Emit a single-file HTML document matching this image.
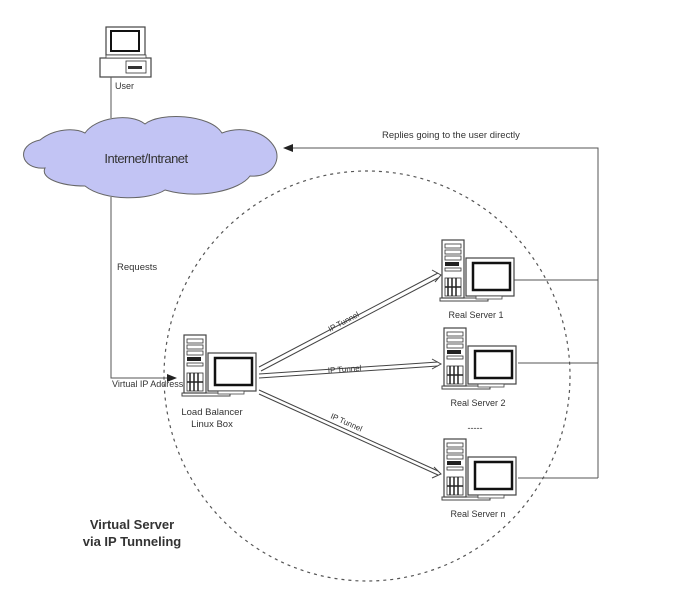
<!DOCTYPE html>
<html><head><meta charset="utf-8"><style>
html,body{margin:0;padding:0;background:#fff;}
svg{display:block;font-family:"Liberation Sans",sans-serif;}
</style></head><body>
<svg width="693" height="602" viewBox="0 0 693 602" xmlns="http://www.w3.org/2000/svg">
<defs>
<g id="srv">
  <!-- base -->
  <rect x="0" y="58" width="48" height="3" fill="#fff" stroke="#444" stroke-width="1"/>
  <!-- tower -->
  <rect x="2" y="0" width="22" height="58" fill="#fff" stroke="#444" stroke-width="1.2"/>
  <rect x="5" y="4" width="16" height="4" fill="#fff" stroke="#333" stroke-width="0.8"/>
  <rect x="5" y="10" width="16" height="4" fill="#fff" stroke="#333" stroke-width="0.8"/>
  <rect x="5" y="16" width="16" height="4" fill="#fff" stroke="#333" stroke-width="0.8"/>
  <rect x="5" y="22" width="14" height="4" fill="#222"/>
  <rect x="5" y="28" width="16" height="3" fill="#fff" stroke="#333" stroke-width="0.8"/>
  <rect x="5" y="38" width="16" height="18" fill="#fff" stroke="#333" stroke-width="0.8"/>
  <path d="M8 38V56M12 38V56M16 38V56M5 47H21" stroke="#222" stroke-width="1.5"/>
  <!-- monitor -->
  <rect x="26" y="18" width="48" height="38" fill="#fff" stroke="#444" stroke-width="1.2"/>
  <rect x="33" y="23" width="37" height="27" fill="#fff" stroke="#111" stroke-width="2.5"/>
  <rect x="36" y="56" width="26" height="3" fill="#fff" stroke="#444" stroke-width="0.8"/>
</g>
<marker id="ar" markerWidth="10" markerHeight="8" refX="9" refY="4" orient="auto" markerUnits="userSpaceOnUse">
  <path d="M0,0 L10,4 L0,8 z" fill="#222"/>
</marker>
</defs>

<!-- user pc -->
<rect x="106" y="27" width="39" height="28" fill="#fff" stroke="#444" stroke-width="1.2"/>
<rect x="111" y="31" width="28" height="20" fill="#fff" stroke="#111" stroke-width="2"/>
<rect x="100" y="58" width="51" height="19" fill="#fff" stroke="#444" stroke-width="1.2"/>
<rect x="106" y="55" width="40" height="3" fill="#fff" stroke="#444" stroke-width="0.8"/>
<rect x="126" y="61" width="20" height="12" fill="#fff" stroke="#333" stroke-width="0.8"/>
<rect x="128" y="66" width="14" height="3" fill="#333"/>
<text x="115" y="89" font-size="9" fill="#333">User</text>

<!-- lines user/cloud/requests -->
<line x1="111" y1="77" x2="111" y2="118" stroke="#555" stroke-width="1"/>
<polyline points="111,197 111,378 176,378" fill="none" stroke="#555" stroke-width="1" marker-end="url(#ar)"/>

<!-- cloud -->
<path d="M40,140 C55,128 75,128 85,133 C95,118 130,112 145,124 C160,112 210,114 222,133 C240,126 265,130 275,148 C282,162 270,178 250,176 C240,190 200,200 165,190 C150,200 105,202 85,186 C60,186 40,178 45,168 C20,170 15,145 40,140 Z" fill="#c2c4f4" stroke="#666" stroke-width="1"/>
<text x="146" y="163" font-size="13" text-anchor="middle" fill="#333" letter-spacing="-0.5">Internet/Intranet</text>

<text x="117" y="270" font-size="9.5" fill="#333">Requests</text>
<text x="112" y="387" font-size="9" fill="#333">Virtual IP Address</text>

<!-- dashed circle -->
<ellipse cx="367" cy="376" rx="203" ry="205" fill="none" stroke="#555" stroke-width="1.2" stroke-dasharray="3,4"/>

<!-- replies -->
<polyline points="598,478 598,148 284,148" fill="none" stroke="#555" stroke-width="1" marker-end="url(#ar)"/>
<text x="382" y="138" font-size="9.5" fill="#333">Replies going to the user directly</text>
<line x1="514" y1="280" x2="598" y2="280" stroke="#555"/>
<line x1="518" y1="363" x2="598" y2="363" stroke="#555"/>
<line x1="518" y1="478" x2="598" y2="478" stroke="#555"/>

<!-- tunnels -->
<g stroke="#444" stroke-width="1" fill="none">
  <line x1="259" y1="367" x2="438" y2="273"/>
  <line x1="261" y1="371" x2="438" y2="278"/>
  <line x1="259" y1="374" x2="438" y2="362"/>
  <line x1="259" y1="378" x2="438" y2="366"/>
  <line x1="259" y1="390" x2="438" y2="471"/>
  <line x1="259" y1="394" x2="438" y2="475"/>
  <path d="M432,270 L441,275 L435,282"/>
  <path d="M432,359 L441,364 L432,369"/>
  <path d="M434,467 L441,474 L432,478"/>
</g>
<text font-size="8" fill="#333" transform="translate(330,332) rotate(-28)">IP Tunnel</text>
<text font-size="8" fill="#333" transform="translate(328,373) rotate(-4)">IP Tunnel</text>
<text font-size="8" fill="#333" transform="translate(330,418) rotate(24)">IP Tunnel</text>

<!-- load balancer -->
<use href="#srv" x="182" y="335"/>
<text x="212" y="415" font-size="9.5" text-anchor="middle" fill="#333">Load Balancer</text>
<text x="212" y="427" font-size="9.5" text-anchor="middle" fill="#333">Linux Box</text>

<!-- real servers -->
<use href="#srv" x="440" y="240"/>
<text x="476" y="318" font-size="9" text-anchor="middle" fill="#333">Real Server 1</text>
<use href="#srv" x="442" y="328"/>
<text x="478" y="406" font-size="9" text-anchor="middle" fill="#333">Real Server 2</text>
<text x="475" y="431" font-size="9" text-anchor="middle" fill="#333">-----</text>
<use href="#srv" x="442" y="439"/>
<text x="478" y="517" font-size="9" text-anchor="middle" fill="#333">Real Server n</text>

<text x="132" y="529" font-size="13" font-weight="bold" text-anchor="middle" fill="#333">Virtual Server</text>
<text x="132" y="546" font-size="13" font-weight="bold" text-anchor="middle" fill="#333">via IP Tunneling</text>
</svg>
</body></html>
